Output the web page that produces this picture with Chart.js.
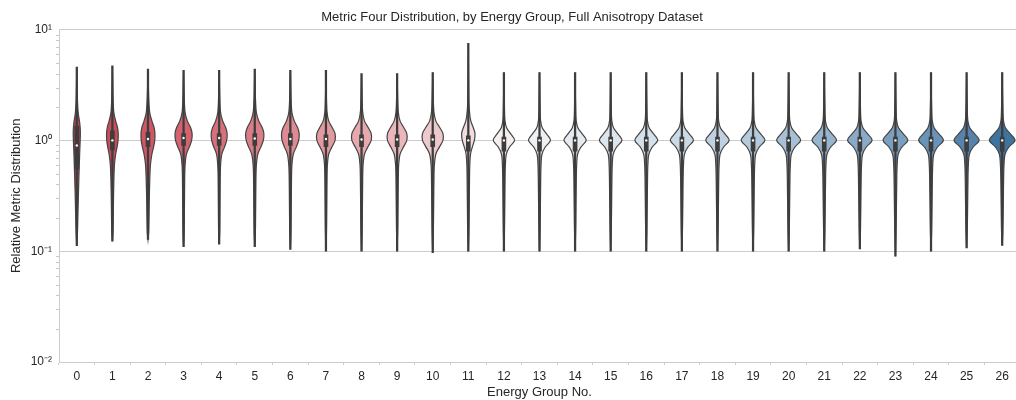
<!DOCTYPE html>
<html lang="en">
<head>
<meta charset="UTF-8">
<title>Metric Four Distribution</title>
<script src="https://cdn.jsdelivr.net/npm/chart.js"></script>
<style>
    * { margin: 0; padding: 0; box-sizing: border-box; }
    body { background: #fff; width: 1016px; height: 400px; overflow: hidden; }
    #wrap { width: 1024px; height: 400px; }
</style>
</head>
<body>
<div id="wrap"><canvas id="violinChart" width="1024" height="400"></canvas></div>
<script>
// energy groups and per-group summary statistics
const groups = ['0','1','2','3','4','5','6','7','8','9','10','11','12','13','14','15','16','17','18','19','20','21','22','23','24','25','26'];
const maxVals = [4.6, 4.7, 4.4, 4.3, 4.3, 4.4, 4.3, 4.3, 4.0, 4.0, 4.1, 7.5, 4.1, 4.1, 4.1, 4.1, 4.1, 4.1, 4.1, 4.1, 4.1, 4.1, 4.1, 4.1, 4.1, 4.1, 4.1];
const minVals = [0.112, 0.123, 0.128, 0.11, 0.116, 0.11, 0.104, 0.1, 0.1, 0.1, 0.097, 0.1, 0.1, 0.1, 0.1, 0.1, 0.1, 0.1, 0.1, 0.1, 0.1, 0.1, 0.105, 0.09, 0.1, 0.107, 0.113];
const medians = [0.9, 1.0, 1.03, 1.05, 1.05, 1.04, 1.03, 1.03, 1.02, 1.02, 1.02, 1.0, 1.0, 1.0, 1.0, 1.0, 1.0, 1.0, 1.0, 1.0, 1.0, 1.0, 1.0, 1.0, 1.0, 1.0, 1.0];
const q1Vals = [0.55, 0.82, 0.88, 0.9, 0.9, 0.9, 0.9, 0.88, 0.88, 0.88, 0.88, 0.8, 0.8, 0.8, 0.8, 0.8, 0.8, 0.8, 0.8, 0.8, 0.8, 0.8, 0.8, 0.8, 0.8, 0.8, 0.8];
const q3Vals = [1.35, 1.22, 1.18, 1.15, 1.15, 1.15, 1.15, 1.12, 1.12, 1.12, 1.12, 1.1, 1.07, 1.07, 1.07, 1.07, 1.07, 1.07, 1.07, 1.07, 1.07, 1.07, 1.07, 1.07, 1.07, 1.07, 1.07];

// density outline: levels between max and min, and relative half-widths per shape
const densityLevels = [2.5, 1.8, 1.5, 1.3, 1.15, 1.0, 0.87, 0.75, 0.6, 0.45, 0.3, 0.2, 0.15];
const shapeLong    = [0, .15, .38, .75, .95, 1, .95, .88, .8, .7, .58, .43, .3, .2, 0];
const shapeEarly   = [0, .1, .24, .56, .89, 1, .97, .8, .56, .35, .26, .19, .15, .11, 0];
const shapeRed     = [0, .07, .17, .44, .83, 1, .94, .67, .33, .18, .13, .11, .09, .07, 0];
const shapePink    = [0, .05, .12, .3, .7, 1, 1, .65, .3, .16, .12, .1, .08, .06, 0];
const shapeThin    = [0, .07, .18, .37, .75, 1, .9, .6, .33, .22, .18, .15, .12, .09, 0];
const shapeDiamond = [0, .03, .06, .1, .25, .62, 1, .52, .22, .14, .11, .09, .07, .05, 0];
const groupShape = [shapeLong, shapeEarly, shapeEarly, shapeRed, shapeRed, shapeRed, shapeRed,
    shapePink, shapePink, shapePink, shapePink, shapeThin,
    shapeDiamond, shapeDiamond, shapeDiamond, shapeDiamond, shapeDiamond, shapeDiamond, shapeDiamond,
    shapeDiamond, shapeDiamond, shapeDiamond, shapeDiamond, shapeDiamond, shapeDiamond, shapeDiamond, shapeDiamond];
// widest point of each violin, as a share of the allowed half-width
const peakWidth = [0.25, 0.41, 0.49, 0.6, 0.56, 0.64, 0.62, 0.64, 0.68, 0.68, 0.72, 0.47, 0.75, 0.77, 0.78, 0.79, 0.8, 0.81, 0.82, 0.83, 0.84, 0.86, 0.86, 0.87, 0.87, 0.88, 0.9];

const yTickLabels = { '-2': '10\u207B\u00B2', '-1': '10\u207B\u00B9', '0': '10\u2070', '1': '10\u00B9' };

// red -> white -> blue palette
const paletteStops = [
    [0, [196, 64, 79]], [3, [212, 99, 111]], [6, [222, 138, 147]], [9, [235, 183, 187]],
    [12, [245, 238, 238]], [13, [238, 241, 244]], [16, [212, 224, 234]], [19, [181, 202, 221]],
    [22, [138, 171, 200]], [24, [106, 147, 185]], [26, [63, 115, 160]]
];
function paletteColor(i) {
    for (let k = 0; k < paletteStops.length - 1; k++) {
        const [a, ca] = paletteStops[k], [b, cb] = paletteStops[k + 1];
        if (i >= a && i <= b) {
            const t = (i - a) / (b - a);
            const c = ca.map((v, j) => Math.round(v + (cb[j] - v) * t));
            return 'rgb(' + c.join(',') + ')';
        }
    }
    return 'rgb(63,115,160)';
}

const FONT = "'Liberation Sans', Arial, sans-serif";
const INK = '#262626';
const DARK = '#3d3d3d';

// catmull-rom through the outline points of one side
function traceSide(ctx, pts) {
    for (let k = 0; k < pts.length - 1; k++) {
        const p0 = pts[Math.max(k - 1, 0)], p1 = pts[k], p2 = pts[k + 1], p3 = pts[Math.min(k + 2, pts.length - 1)];
        ctx.bezierCurveTo(
            p1.x + (p2.x - p0.x) / 6, p1.y + (p2.y - p0.y) / 6,
            p2.x - (p3.x - p1.x) / 6, p2.y - (p3.y - p1.y) / 6,
            p2.x, p2.y);
    }
}

// violins are drawn under the box / whisker / median datasets
const violinPlugin = {
    id: 'violins',
    beforeDatasetsDraw(chart) {
        const { ctx, scales: { x, y } } = chart;
        const halfMax = 0.4 * (x.getPixelForValue(1) - x.getPixelForValue(0));
        ctx.save();
        groups.forEach((g, i) => {
            const cx = x.getPixelForValue(i);
            const levels = [maxVals[i], ...densityLevels, minVals[i]];
            const shape = groupShape[i];
            const top = y.getPixelForValue(maxVals[i]), bottom = y.getPixelForValue(minVals[i]);
            const pts = levels.map((v, k) => ({ y: y.getPixelForValue(v), w: shape[k] * peakWidth[i] * halfMax }))
                .filter(p => p.y >= top - 0.01 && p.y <= bottom + 0.01);
            const right = pts.map(p => ({ x: cx + p.w, y: p.y }));
            const left = pts.slice().reverse().map(p => ({ x: cx - p.w, y: p.y }));
            ctx.beginPath();
            ctx.moveTo(right[0].x, right[0].y);
            traceSide(ctx, right);
            traceSide(ctx, left);
            ctx.closePath();
            ctx.fillStyle = paletteColor(i);
            ctx.fill();
            ctx.lineWidth = 1.2;
            ctx.strokeStyle = '#444444';
            ctx.stroke();
        });
        // minor ticks along the left spine
        ctx.strokeStyle = '#c8c8c8';
        ctx.lineWidth = 1;
        for (let e = -2; e < 1; e++) {
            for (let m = 2; m <= 9; m++) {
                const py = Math.round(y.getPixelForValue(m * Math.pow(10, e))) + 0.5;
                ctx.beginPath();
                ctx.moveTo(chart.chartArea.left - 3, py);
                ctx.lineTo(chart.chartArea.left, py);
                ctx.stroke();
            }
        }
        ctx.restore();
    }
};

const ctx = document.getElementById('violinChart').getContext('2d');
new Chart(ctx, {
    data: {
        labels: groups,
        datasets: [
            {
                type: 'line', data: medians, showLine: false, order: 0,
                pointRadius: 1.2, pointBackgroundColor: '#ffffff', pointBorderWidth: 0
            },
            {
                type: 'bar', data: groups.map((g, i) => [q1Vals[i], q3Vals[i]]), order: 1,
                backgroundColor: DARK, barThickness: 4, grouped: false
            },
            {
                type: 'bar', data: groups.map((g, i) => [minVals[i], maxVals[i]]), order: 2,
                backgroundColor: DARK, barThickness: 1.6, grouped: false
            }
        ]
    },
    options: {
        responsive: false,
        animation: false,
        devicePixelRatio: 1,
        layout: { padding: 0 },
        plugins: {
            legend: { display: false },
            tooltip: { enabled: false },
            title: {
                display: true,
                text: 'Metric Four Distribution, by Energy Group, Full Anisotropy Dataset',
                color: INK,
                font: { family: FONT, size: 13, weight: 'normal' },
                padding: { top: 10, bottom: 4 }
            }
        },
        scales: {
            x: {
                type: 'category',
                offset: true,
                afterFit(scale) { scale.height = 38; },
                grid: { display: true, drawOnChartArea: false, tickLength: 3, color: '#cccccc' },
                border: { color: '#cccccc' },
                ticks: { color: INK, font: { family: FONT, size: 12 }, padding: 4, maxRotation: 0 },
                title: {
                    display: true, text: 'Energy Group No.', color: INK,
                    font: { family: FONT, size: 13 }, padding: { top: 0, bottom: 0 }
                }
            },
            y: {
                type: 'logarithmic',
                min: 0.01,
                max: 10,
                afterFit(scale) { scale.width = 59; },
                grid: {
                    color: c => (c.tick && Number.isInteger(Math.round(Math.log10(c.tick.value) * 1e6) / 1e6)) ? '#cccccc' : 'rgba(0,0,0,0)',
                    tickLength: 3,
                    tickColor: 'rgba(0,0,0,0)'
                },
                border: { color: '#cccccc' },
                ticks: {
                    autoSkip: false,
                    color: INK,
                    font: { family: FONT, size: 12 },
                    padding: 4,
                    callback: v => {
                        const e = Math.log10(v);
                        return Math.abs(e - Math.round(e)) < 1e-6 ? yTickLabels[String(Math.round(e))] : '';
                    }
                },
                title: {
                    display: true, text: 'Relative Metric Distribution', color: INK,
                    font: { family: FONT, size: 13 }, padding: { top: 9, bottom: 0 }
                }
            }
        }
    },
    plugins: [violinPlugin]
});
</script>
</body>
</html>
